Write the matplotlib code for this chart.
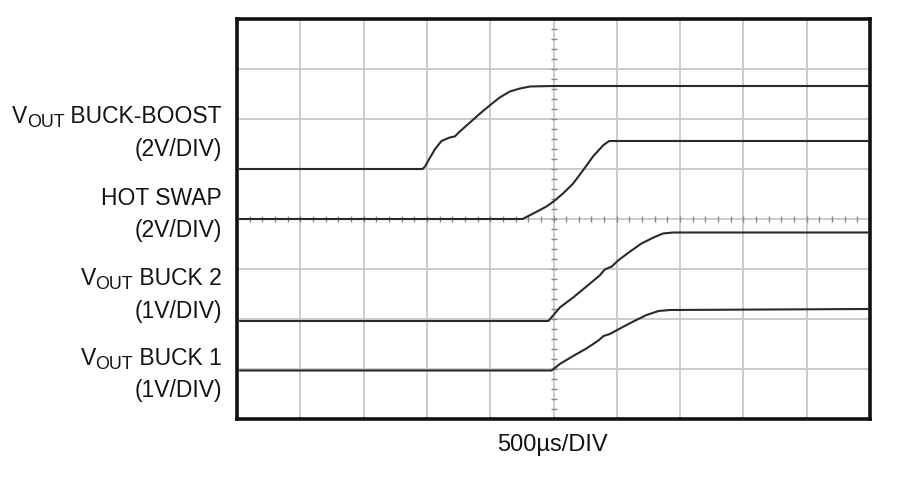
import numpy as np
import matplotlib
matplotlib.use("Agg")
import matplotlib.pyplot as plt

# time axis in divisions (500us/DIV), trace levels in divisions from the bottom
bb_t = [0.05, 2.93, 2.97, 3.05, 3.13, 3.23, 3.36, 3.44, 3.52, 3.68, 3.84, 4.00,
        4.15, 4.31, 4.47, 4.63, 4.99, 9.97]
bb_v = [5.00, 5.00, 5.05, 5.23, 5.40, 5.56, 5.63, 5.65, 5.75, 5.93, 6.11, 6.28,
        6.43, 6.55, 6.61, 6.65, 6.66, 6.66]

hs_t = [0.05, 4.51, 4.68, 4.89, 5.01, 5.15, 5.31, 5.47, 5.63, 5.79, 5.88, 9.97]
hs_v = [4.00, 4.00, 4.11, 4.25, 4.36, 4.51, 4.71, 4.98, 5.26, 5.48, 5.56, 5.56]

b2_t = [0.05, 4.92, 5.02, 5.10, 5.31, 5.52, 5.73, 5.81, 5.92, 6.02, 6.21, 6.39,
        6.58, 6.73, 6.89, 9.97]
b2_v = [1.96, 1.96, 2.11, 2.23, 2.43, 2.65, 2.87, 2.99, 3.05, 3.17, 3.35, 3.51,
        3.63, 3.71, 3.73, 3.73]

b1_t = [0.05, 4.97, 5.10, 5.31, 5.52, 5.71, 5.79, 5.89, 6.05, 6.26, 6.47, 6.66,
        6.84, 9.97]
b1_v = [0.97, 0.97, 1.10, 1.26, 1.41, 1.57, 1.66, 1.70, 1.81, 1.95, 2.08, 2.16,
        2.18, 2.20]

# (prefix with subscript?, text) per label line
labels = [
    (True, " BUCK-BOOST"), (False, "(2V/DIV)"),
    (False, "HOT SWAP"), (False, "(2V/DIV)"),
    (True, " BUCK 2"), (False, "(1V/DIV)"),
    (True, " BUCK 1"), (False, "(1V/DIV)"),
]
label_base_px = [123, 156, 205, 237, 285, 318, 365, 397]

plt.rcParams["font.family"] = ["Liberation Sans", "DejaVu Sans"]

W, H = 900, 478
FS = 16.5
INK = "#141414"
fig = plt.figure(figsize=(W / 100, H / 100), dpi=100)
ax = fig.add_axes([237 / W, 1 - 419 / H, 633 / W, 400 / H])
ax.set_xlim(0, 10)
ax.set_ylim(0, 8)
ax.set_xticks(range(11))
ax.set_yticks(range(9))
ax.tick_params(length=0, labelbottom=False, labelleft=False)
ax.grid(True, color="#c8c8c8", lw=1.3)
for s in ax.spines.values():
    s.set_linewidth(2.6)
    s.set_color("#111111")

# small graticule ticks on the centre lines
fine_x = np.arange(0, 10.01, 0.2)
fine_y = np.arange(0, 8.01, 0.2)
ax.plot(fine_x, np.full_like(fine_x, 4.0), ls="none", marker="|", ms=4.5,
        mew=1.0, color="#888888", zorder=2)
ax.plot(np.full_like(fine_y, 5.0), fine_y, ls="none", marker="_", ms=4.5,
        mew=1.0, color="#888888", zorder=2)

for t, v in [(bb_t, bb_v), (hs_t, hs_v), (b2_t, b2_v), (b1_t, b1_v)]:
    ax.plot(t, v, color="#2a2a2a", lw=1.5, zorder=3)

fig.canvas.draw()
renderer = fig.canvas.get_renderer()

# right-aligned labels; "VOUT" built from pieces so the subscript stays large
for (sub, txt), py in zip(labels, label_base_px):
    x_right = 222
    t = fig.text(x_right / W, 1 - py / H, txt, ha="right", va="baseline",
                 fontsize=FS, color=INK)
    if not sub:
        continue
    left = t.get_window_extent(renderer).x0
    o = fig.text(left / W, 1 - (py + 4) / H, "OUT", ha="right", va="baseline",
                 fontsize=FS * 0.78, color=INK)
    left = o.get_window_extent(renderer).x0
    fig.text((left + 0.5) / W, 1 - py / H, "V", ha="right", va="baseline",
             fontsize=FS, color=INK)

fig.text(552 / W, 1 - 451 / H, "500µs/DIV", ha="center", va="baseline",
         fontsize=17, color=INK)

fig.savefig("out.png", dpi=100)
